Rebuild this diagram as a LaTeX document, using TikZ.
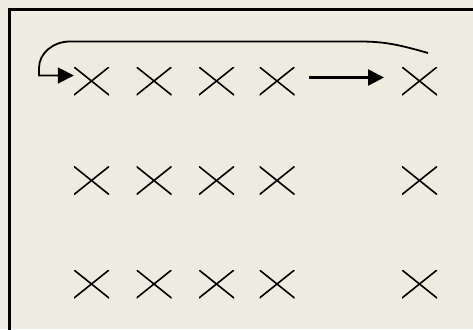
\documentclass[tikz,border=0pt]{standalone}
\usetikzlibrary{arrows.meta}
\definecolor{paper}{HTML}{EEEBE0}
\tikzset{
  cross/.style={inner sep=0pt, minimum width=35pt, minimum height=28pt,
    path picture={\draw[line width=1.6pt, line cap=round]
      (path picture bounding box.south west) -- (path picture bounding box.north east)
      (path picture bounding box.north west) -- (path picture bounding box.south east);}},
  link/.style={line width=1.8pt, -{Triangle[length=16pt, width=16pt]}},
}
\begin{document}
\begin{tikzpicture}[x=1pt, y=-1pt]
  % page and frame
  \fill[paper] (0,0) rectangle (473,329);
  \useasboundingbox (0,0) rectangle (473,329);
  \draw[line width=3pt] (9.5,340) -- (9.5,9.5) -- (480,9.5);
  % grid of crosses
  \foreach \r/\y in {1/81, 2/180.5, 3/284} {
    \foreach \c/\x in {1/91.5, 2/154, 3/216.5, 4/277, 5/419.5} {
      \node[cross] (x\r\c) at (\x,\y) {};
    }
  }
  % connectors along the top row
  \coordinate (hs) at (309,77.5);
  \coordinate (he) at (384,77.5);
  \draw[link, line width=2.6pt] (hs) -- (he);
  \coordinate (back) at (428,53);
  \draw[link] (back) .. controls (400,45) and (385,41.5) .. (360,41.5)
    -- (70,41.5) .. controls (52.9,41.5) and (39,53.4) .. (39,68)
    -- (39,75.5) -- (x11.west |- 0,75.5);
\end{tikzpicture}
\end{document}
